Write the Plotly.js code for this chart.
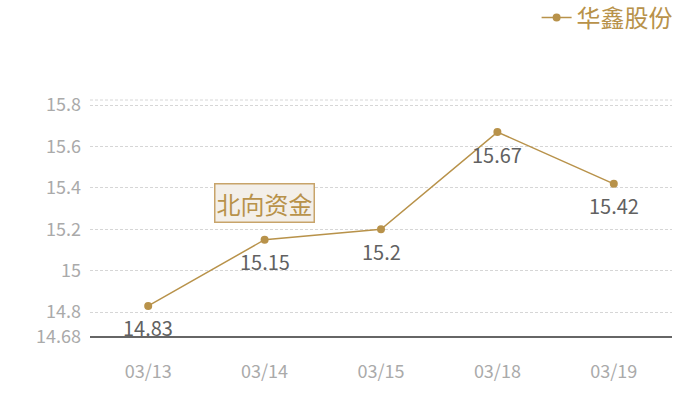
<!DOCTYPE html>
<html>
<head>
<meta charset="utf-8">
<script src="https://cdn.plot.ly/plotly-3.0.1.min.js"></script>
<style>
  html, body { margin: 0; padding: 0; background: #fff; }
  #chart { width: 700px; height: 400px; }
</style>
</head>
<body>
<div id="chart"></div>
<script>
// data
const dates = ['03/13', '03/14', '03/15', '03/18', '03/19'];
const prices = [14.83, 15.15, 15.2, 15.67, 15.42];
const seriesName = '华鑫股份';
const yTicks = [14.68, 14.8, 15, 15.2, 15.4, 15.6, 15.8];
const yTickText = ['14.68', '14.8', '15', '15.2', '15.4', '15.6', '15.8'];

const gold = '#b8924a';
const font = '"Noto Sans CJK SC", "Noto Sans", sans-serif';

const trace = {
    x: dates,
    y: prices,
    type: 'scatter',
    mode: 'lines+markers',
    name: seriesName,
    line: { color: gold, width: 1.5 },
    marker: { color: gold, size: 8 },
    cliponaxis: false,
};

// value labels sit a bit further under each point than textposition allows
const valueLabels = dates.map((d, i) => ({
    x: d,
    y: prices[i],
    text: String(prices[i]),
    showarrow: false,
    yanchor: 'middle',
    yshift: -22,
    font: { color: '#616161', size: 20, family: font },
}));

const layout = {
    width: 700,
    height: 400,
    margin: { t: 100, r: 28, b: 63, l: 90 },
    paper_bgcolor: '#ffffff',
    plot_bgcolor: '#ffffff',
    font: { family: font },
    showlegend: true,
    legend: {
        orientation: 'h',
        xref: 'container', yref: 'container',
        x: 0.968, xanchor: 'right',
        y: 0.955, yanchor: 'middle',
        font: { color: gold, size: 24, family: font },
        bgcolor: 'rgba(0,0,0,0)',
    },
    xaxis: {
        type: 'category',
        range: [-0.5, 4.5],
        showgrid: false,
        zeroline: false,
        showline: false,
        ticks: 'outside',
        ticklen: 18,
        tickcolor: 'rgba(0,0,0,0)',
        tickfont: { color: '#aaaaaa', size: 18, family: font },
        fixedrange: true,
    },
    yaxis: {
        range: [14.68, 15.825],
        tickvals: yTicks,
        ticktext: yTickText,
        showgrid: true,
        gridcolor: '#d6d6d6',
        griddash: '3px,2px',
        gridwidth: 1,
        zeroline: false,
        showline: false,
        ticks: '',
        ticklabelstandoff: 8,
        tickfont: { color: '#aaaaaa', size: 18, family: font },
        fixedrange: true,
    },
    shapes: [
        // axis base line
        { type: 'line', xref: 'paper', yref: 'paper', x0: 0, x1: 1, y0: 0, y1: 0,
          line: { color: '#333333', width: 1.5 } },
        // top border dashed
        { type: 'line', xref: 'paper', yref: 'paper', x0: 0, x1: 1, y0: 1, y1: 1,
          line: { color: '#d6d6d6', width: 1, dash: '3px,2px' } },
    ],
    annotations: valueLabels.concat([
        {
            text: '北向资金',
            xref: 'paper', yref: 'paper',
            x: 0.299, y: 0.566,
            xanchor: 'center', yanchor: 'middle',
            showarrow: false,
            font: { color: gold, size: 24, family: font },
            bgcolor: '#f3efe9',
            bordercolor: '#c8a46a',
            borderwidth: 1.5,
            borderpad: 1,
        },
    ]),
};

Plotly.newPlot('chart', [trace], layout, { displayModeBar: false, staticPlot: true });
</script>
</body>
</html>
